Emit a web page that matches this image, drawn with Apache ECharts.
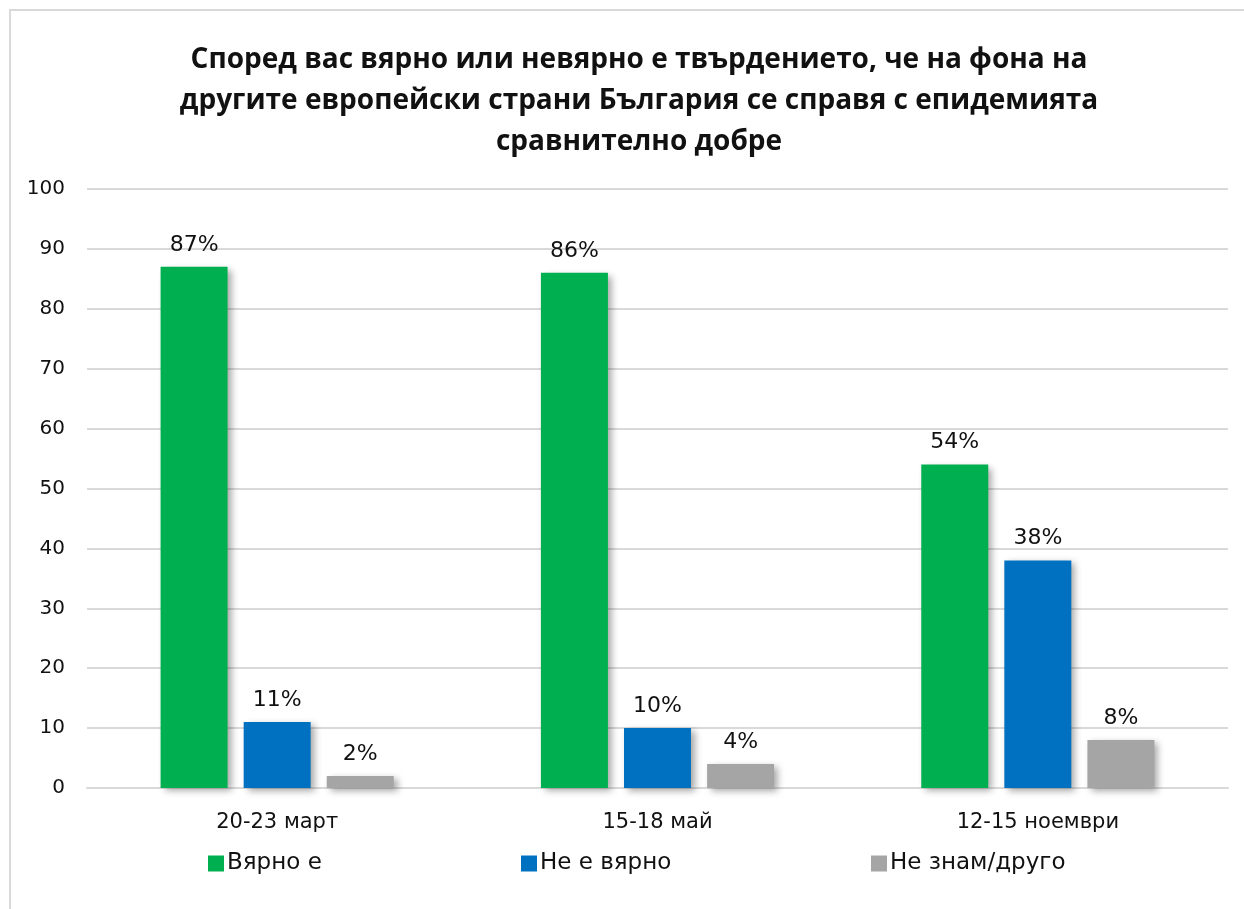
<!DOCTYPE html>
<html>
<head>
<meta charset="utf-8">
<script src="https://cdn.jsdelivr.net/npm/echarts@6/dist/echarts.min.js"></script>
<style>
    html, body { margin: 0; padding: 0; background: #fff; overflow: hidden; }
    #chart {
        position: absolute; left: 9px; top: 9px;
        width: 1260px; height: 920px;
        border-left: 2px solid #d9d9d9; border-top: 2px solid #d9d9d9;
    }
</style>
</head>
<body>
<div id="chart"></div>
<script>
    // Survey data
    const titleText = 'Според вас вярно или невярно е твърдението, че на фона на\nдругите европейски страни България се справя с епидемията\nсравнително добре';
    const periods = ['20-23 март', '15-18 май', '12-15 ноември'];
    const seriesNames = ['Вярно е', 'Не е вярно', 'Не знам/друго'];
    const trueValues = [87, 86, 54];
    const falseValues = [11, 10, 38];
    const dontKnowValues = [2, 4, 8];
    const colors = ['#00b050', '#0070c0', '#a5a5a5'];
    const yTicks = [0, 100, 10]; // min, max, step

    const chart = echarts.init(document.getElementById('chart'));
    const font = '"DejaVu Sans", sans-serif';

    const makeSeries = (name, data, color) => ({
        name: name,
        type: 'bar',
        data: data,
        barWidth: 67,
        barGap: '24%',
        itemStyle: {
            color: color,
            shadowColor: 'rgba(0,0,0,0.35)',
            shadowBlur: 7,
            shadowOffsetX: 4,
            shadowOffsetY: 3
        },
        label: {
            show: true,
            position: 'top',
            distance: 11,
            formatter: '{c}%',
            color: '#111',
            fontSize: 22,
            fontFamily: font
        }
    });

    const legendPos = [192, 505, 855];

    chart.setOption({
        animation: false,
        title: {
            text: titleText,
            left: 623,
            top: 24,
            textAlign: 'center',
            textStyle: {
                fontFamily: '"Liberation Sans Narrow", "Open Sans", sans-serif',
                fontWeight: 'bold',
                fontSize: 28,
                lineHeight: 41,
                color: '#111'
            }
        },
        legend: seriesNames.map((n, i) => ({
            data: [n],
            left: legendPos[i],
            top: 836,
            itemWidth: 16,
            itemHeight: 16,
            itemGap: 4,
            icon: 'rect',
            textStyle: { fontSize: 23, fontFamily: font, color: '#111', padding: [0, 0, 0, -2] }
        })),
        grid: { left: 76, top: 178, width: 1141, height: 599 },
        xAxis: {
            type: 'category',
            data: periods,
            axisTick: { show: false },
            axisLine: { lineStyle: { color: '#d9d9d9', width: 2 } },
            axisLabel: { color: '#111', fontSize: 21, fontFamily: font, margin: 24 }
        },
        yAxis: {
            type: 'value',
            min: yTicks[0],
            max: yTicks[1],
            interval: yTicks[2],
            axisLabel: { color: '#111', fontSize: 20, fontFamily: font, margin: 22 },
            splitLine: { lineStyle: { color: '#d9d9d9', width: 2 } }
        },
        series: [
            makeSeries(seriesNames[0], trueValues, colors[0]),
            makeSeries(seriesNames[1], falseValues, colors[1]),
            makeSeries(seriesNames[2], dontKnowValues, colors[2])
        ]
    });
</script>
</body>
</html>
